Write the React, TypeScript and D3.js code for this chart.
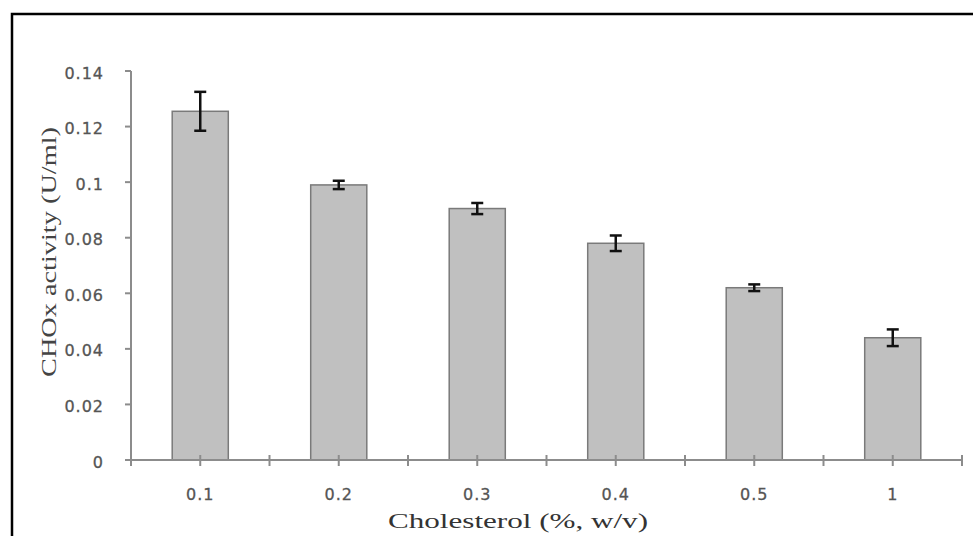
import { useRef, useEffect } from "react";
import * as d3 from "d3";

const categories = ["0.1", "0.2", "0.3", "0.4", "0.5", "1"];
const activity = [0.1255, 0.099, 0.0905, 0.078, 0.062, 0.044];
const errors = [0.007, 0.0015, 0.002, 0.0028, 0.0012, 0.003];
const yTicks = [0, 0.02, 0.04, 0.06, 0.08, 0.1, 0.12, 0.14];

const W = 973;
const H = 536;

const App = () => {
  const ref = useRef<SVGSVGElement | null>(null);

  useEffect(() => {
    const svg = d3.select(ref.current);
    svg.selectAll("*").remove();

    // frame
    svg
      .append("rect")
      .attr("x", 12)
      .attr("y", 14)
      .attr("width", 980)
      .attr("height", 540)
      .attr("fill", "#fff")
      .attr("stroke", "#000")
      .attr("stroke-width", 2.5);

    const left = 131;
    const right = 962;
    const bottom = 460;
    const top = 71;

    const x = d3
      .scaleBand<string>()
      .domain(categories)
      .range([left, right])
      .paddingInner(0.595)
      .paddingOuter(0.2975);
    const y = d3.scaleLinear().domain([0, 0.14]).range([bottom, top]);
    const step = x.step();
    const bw = x.bandwidth();

    const axisColor = "#8c8c8c";
    const labelColor = "#555";

    // y axis
    svg
      .append("line")
      .attr("x1", left)
      .attr("x2", left)
      .attr("y1", y(0.14))
      .attr("y2", bottom)
      .attr("stroke", axisColor)
      .attr("stroke-width", 2);

    svg
      .selectAll(".ytick")
      .data(yTicks)
      .enter()
      .append("line")
      .attr("x1", left - 6)
      .attr("x2", left)
      .attr("y1", (d) => y(d))
      .attr("y2", (d) => y(d))
      .attr("stroke", axisColor)
      .attr("stroke-width", 2);

    svg
      .selectAll(".ylab")
      .data(yTicks)
      .enter()
      .append("text")
      .attr("x", 104)
      .attr("y", (d) => y(d) + 2)
      .attr("dy", "0.35em")
      .attr("text-anchor", "end")
      .attr("font-family", "DejaVu Sans, sans-serif")
      .attr("font-size", 16)
      .attr("letter-spacing", 1)
      .attr("stroke", labelColor)
      .attr("stroke-width", 0.3)
      .attr("fill", labelColor)
      .text((d) => (d === 0 ? "0" : String(+d.toFixed(2))));

    // bars
    svg
      .selectAll(".bar")
      .data(categories)
      .enter()
      .append("rect")
      .attr("x", (d) => x(d)!)
      .attr("y", (d, i) => y(activity[i]))
      .attr("width", bw)
      .attr("height", (d, i) => bottom - y(activity[i]))
      .attr("fill", "#c0c0c0")
      .attr("stroke", "#7a7a7a")
      .attr("stroke-width", 1.5);

    // x axis
    svg
      .append("line")
      .attr("x1", left - 6)
      .attr("x2", right)
      .attr("y1", bottom)
      .attr("y2", bottom)
      .attr("stroke", axisColor)
      .attr("stroke-width", 2);

    const xTickPos: number[] = [];
    categories.forEach((c, i) => {
      const mid = x(c)! + bw / 2;
      xTickPos.push(mid);
      xTickPos.push(mid + step / 2);
      if (i === 0) xTickPos.push(mid - step / 2);
    });
    svg
      .selectAll(".xtick")
      .data(xTickPos)
      .enter()
      .append("line")
      .attr("x1", (d) => d)
      .attr("x2", (d) => d)
      .attr("y1", bottom - 5)
      .attr("y2", bottom + 6)
      .attr("stroke", axisColor)
      .attr("stroke-width", 2);

    svg
      .selectAll(".xlab")
      .data(categories)
      .enter()
      .append("text")
      .attr("x", (d) => x(d)! + bw / 2)
      .attr("y", 494)
      .attr("dy", "0.35em")
      .attr("text-anchor", "middle")
      .attr("font-family", "DejaVu Sans, sans-serif")
      .attr("font-size", 16)
      .attr("letter-spacing", 1)
      .attr("stroke", labelColor)
      .attr("stroke-width", 0.3)
      .attr("fill", labelColor)
      .text((d) => d);

    // error bars
    const eb = svg.append("g").attr("stroke", "#111").attr("stroke-width", 2.5);
    categories.forEach((c, i) => {
      const cx = x(c)! + bw / 2;
      const hi = y(activity[i] + errors[i]);
      const lo = y(activity[i] - errors[i]);
      eb.append("line").attr("x1", cx).attr("x2", cx).attr("y1", hi).attr("y2", lo);
      eb.append("line").attr("x1", cx - 6).attr("x2", cx + 6).attr("y1", hi).attr("y2", hi);
      eb.append("line").attr("x1", cx - 6).attr("x2", cx + 6).attr("y1", lo).attr("y2", lo);
    });

    // axis titles
    svg
      .append("text")
      .attr("x", 518)
      .attr("y", 528)
      .attr("text-anchor", "middle")
      .attr("font-family", "Liberation Serif, DejaVu Serif, serif")
      .attr("font-size", 21)
      .attr("textLength", 260)
      .attr("lengthAdjust", "spacingAndGlyphs")
      .attr("fill", "#333")
      .text("Cholesterol (%, w/v)");

    svg
      .append("text")
      .attr("transform", "translate(56,252) rotate(-90)")
      .attr("text-anchor", "middle")
      .attr("font-family", "Liberation Serif, DejaVu Serif, serif")
      .attr("font-size", 22)
      .attr("textLength", 250)
      .attr("lengthAdjust", "spacingAndGlyphs")
      .attr("fill", "#444")
      .text("CHOx activity (U/ml)");
  }, []);

  return (
    <svg
      ref={ref}
      width={W}
      height={H}
      style={{ position: "absolute", left: 0, top: 0, background: "#fff" }}
    />
  );
};

export default App;
